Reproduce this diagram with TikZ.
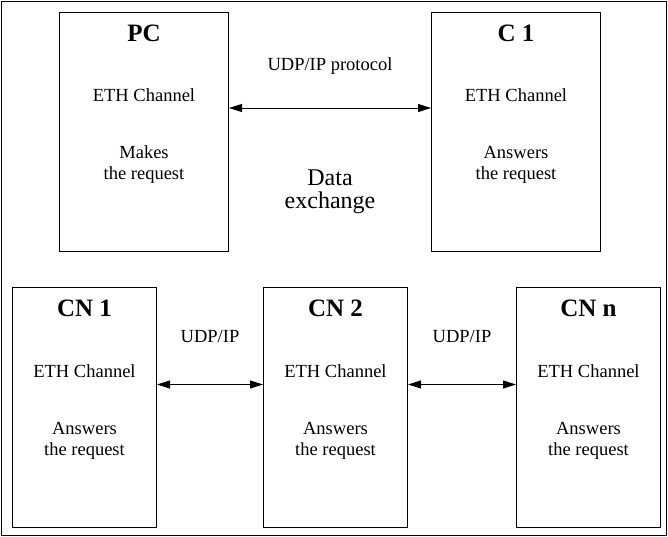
\documentclass[tikz,border=0pt]{standalone}
\usepackage{fontspec}
\setmainfont{Liberation Serif}
\usetikzlibrary{positioning}
\usetikzlibrary{arrows.meta}
\tikzset{
  box/.style      = { rectangle, draw=black, line width=1pt, inner sep=0pt },
  host/.style     = { box, minimum width=169pt, minimum height=239pt },
  cnode/.style    = { box, minimum width=144pt, minimum height=240pt },
  plain/.style    = { inner sep=0pt, font=\fontsize{18.5}{21}\selectfont },
}
\tikzset{
  title/.style    = { inner sep=0pt, font=\fontsize{25}{30}\selectfont\bfseries, anchor=base },
  channel/.style  = { plain, anchor=base },
  role/.style     = { plain, align=center },
  link/.style     = { plain },
  exchange/.style = { inner sep=0pt, font=\fontsize{24}{23.5}\selectfont, align=center }
}

\begin{document}
\begin{tikzpicture}[
  x=1pt,y=-1pt,
  ,>={Triangle[length=13pt,width=8pt]},line width=1pt
]
  \useasboundingbox (0,0) rectangle (668,536);
  \draw (1,1) rectangle (666,535);

  \node (pc)  [host,anchor=north west] at (59,12)  {};
  \node (c1)  [host,right=202pt of pc]             {};
  \node (cn1) [cnode,anchor=north west] at (12,287) {};
  \node (cn2) [cnode,right=106pt of cn1]           {};
  \node (cnn) [cnode,right=108pt of cn2]           {};

  \node (pc-name)  [title]   at ([yshift=-29pt]pc.north)   {PC};
  \node (pc-eth)   [channel] at ([yshift=-89pt]pc.north)   {ETH Channel};
  \node (pc-role)  [role]    at ([yshift=-153pt]pc.north)  {Makes\\the request};

  \node (c1-name)  [title]   at ([yshift=-29pt]c1.north)   {C 1};
  \node (c1-eth)   [channel] at ([yshift=-89pt]c1.north)   {ETH Channel};
  \node (c1-role)  [role]    at ([yshift=-153pt]c1.north)  {Answers\\the request};

  \node (cn1-name) [title]   at ([yshift=-29pt]cn1.north)  {CN 1};
  \node (cn1-eth)  [channel] at ([yshift=-90pt]cn1.north)  {ETH Channel};
  \node (cn1-role) [role]    at ([yshift=-154pt]cn1.north) {Answers\\the request};

  \node (cn2-name) [title]   at ([yshift=-29pt]cn2.north)  {CN 2};
  \node (cn2-eth)  [channel] at ([yshift=-90pt]cn2.north)  {ETH Channel};
  \node (cn2-role) [role]    at ([yshift=-154pt]cn2.north) {Answers\\the request};

  \node (cnn-name) [title]   at ([yshift=-29pt]cnn.north)  {CN n};
  \node (cnn-eth)  [channel] at ([yshift=-90pt]cnn.north)  {ETH Channel};
  \node (cnn-role) [role]    at ([yshift=-154pt]cnn.north) {Answers\\the request};

  \draw [<->] ([yshift=24pt]pc.east) --
    node (proto) [link,above=33pt]     {UDP/IP protocol}
    node (data)  [exchange,below=61pt] {Data\\exchange}
    ([yshift=24pt]c1.west);
  \draw [<->] ([yshift=23pt]cn1.east) -- node (udp-a) [link,above=41pt] {UDP/IP} ([yshift=23pt]cn2.west);
  \draw [<->] ([yshift=23pt]cn2.east) -- node (udp-b) [link,above=41pt] {UDP/IP} ([yshift=23pt]cnn.west);

\end{tikzpicture}
\end{document}
